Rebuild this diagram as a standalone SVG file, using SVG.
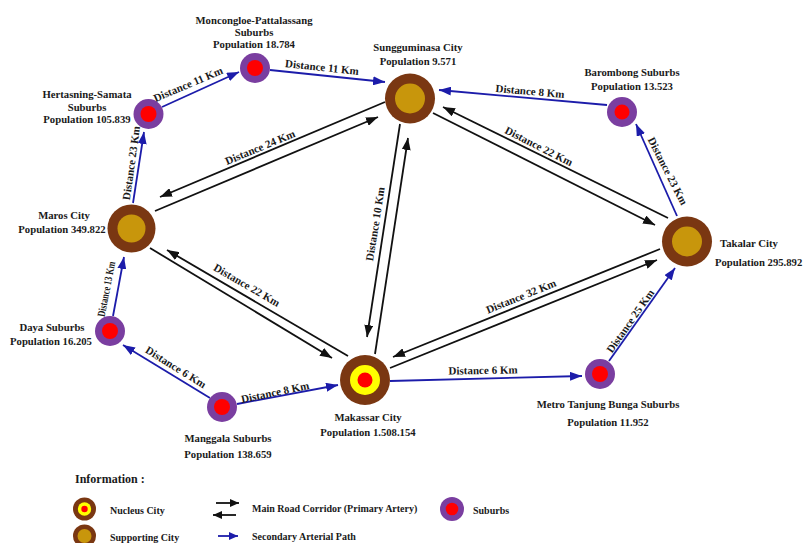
<svg xmlns="http://www.w3.org/2000/svg" width="804" height="543" viewBox="0 0 804 543">
<defs>
<style>
.t{font-family:"Liberation Serif","Times New Roman",serif;font-weight:bold;font-size:10.7px;fill:#1a1a1a}
.d{font-family:"Liberation Serif","Times New Roman",serif;font-weight:bold;font-size:11px;fill:#1a1a1a;text-anchor:middle}
.lg{font-family:"Liberation Serif","Times New Roman",serif;font-weight:bold;font-size:10px;fill:#1a1a1a}
.c{text-anchor:middle}
.main{fill:none;stroke:#111;stroke-width:1.8;marker-end:url(#ab)}
.sec{fill:none;stroke:#1c1caa;stroke-width:1.8;marker-end:url(#au)}
.brown{fill:#7a3712}
.gold{fill:#c8960c}
.yel{fill:#ffff00}
.red{fill:#ff0000}
.pur{fill:#7a3ea0}
</style>
<marker id="ab" markerWidth="12" markerHeight="9" refX="12" refY="4.5" orient="auto" markerUnits="userSpaceOnUse"><path d="M0,0 L12,4.5 L0,9 z" fill="#111"/></marker>
<marker id="au" markerWidth="12" markerHeight="9" refX="12" refY="4.5" orient="auto" markerUnits="userSpaceOnUse"><path d="M0,0 L12,4.5 L0,9 z" fill="#1c1caa"/></marker>
<marker id="abs" markerWidth="9" markerHeight="8" refX="9" refY="4" orient="auto" markerUnits="userSpaceOnUse"><path d="M0,0 L9,4 L0,8 z" fill="#111"/></marker>
<marker id="aus" markerWidth="9" markerHeight="8" refX="9" refY="4" orient="auto" markerUnits="userSpaceOnUse"><path d="M0,0 L9,4 L0,8 z" fill="#1c1caa"/></marker>
</defs>
<rect width="804" height="543" fill="#ffffff"/>

<g id="connectors">
<path class="main" d="M385,102 L160,197"/>
<path class="main" d="M155,211 L378,117"/>
<path class="main" d="M348,356 L167,250"/>
<path class="main" d="M150,248 L332,358"/>
<path class="main" d="M400,124 L367,337"/>
<path class="main" d="M375,354 L408,138"/>
<path class="main" d="M433,113 L655,225"/>
<path class="main" d="M668,218 L443,107"/>
<path class="main" d="M660,249 L393,357"/>
<path class="main" d="M390,368 L657,260"/>
<path class="sec" d="M162,107 L239,72"/>
<path class="sec" d="M270,70 L385,82"/>
<path class="sec" d="M607,105 L439,90"/>
<path class="sec" d="M677,216 L636,124"/>
<path class="sec" d="M133,203 L144,132"/>
<path class="sec" d="M113,316 L124,257"/>
<path class="sec" d="M210,398 L123,345"/>
<path class="sec" d="M237,404 L338,385"/>
<path class="sec" d="M390,381 L582,376"/>
<path class="sec" d="M609,361 L675,268"/>
<text class="d" transform="translate(260,147) rotate(-22.5)" y="4">Distance 24 Km</text>
<text class="d" transform="translate(375,224) rotate(-81)" y="4">Distance 10 Km</text>
<text class="d" transform="translate(247,285) rotate(30)" y="4">Distance 22 Km</text>
<text class="d" transform="translate(539,146) rotate(27)" y="4">Distance 22 Km</text>
<text class="d" transform="translate(521,296) rotate(-22)" y="4">Distance 32 Km</text>
<text class="d" transform="translate(188,84) rotate(-23)" y="4">Distance 11 Km</text>
<text class="d" transform="translate(322,67) rotate(6)" y="4">Distance 11 Km</text>
<text class="d" transform="translate(530,91) rotate(5)" y="4">Distance 8 Km</text>
<text class="d" transform="translate(668,171) rotate(63)" y="4">Distance 23 Km</text>
<text class="d" transform="translate(131,163) rotate(-82)" y="4">Distance 23 Km</text>
<text class="d" transform="translate(106,289) rotate(-79)" y="4" textLength="56" lengthAdjust="spacingAndGlyphs">Distance 13 Km</text>
<text class="d" transform="translate(176,367) rotate(32)" y="4">Distance 6 Km</text>
<text class="d" transform="translate(275,392) rotate(-12)" y="4">Distance 8 Km</text>
<text class="d" transform="translate(483,370) rotate(-1)" y="4">Distance 6 Km</text>
<text class="d" transform="translate(630,321) rotate(-55)" y="4">Distance 25 Km</text>
</g>

<g id="moncongloe">
<circle class="pur" cx="255" cy="68" r="15"/>
<circle class="red" cx="255" cy="68" r="8"/>
<text class="t c" x="254" y="24">Moncongloe-Pattalassang</text>
<text class="t c" x="254" y="36">Suburbs</text>
<text class="t c" x="254" y="48">Population 18.784</text>
</g>

<g id="hertasning">
<circle class="pur" cx="148.5" cy="114" r="15"/>
<circle class="red" cx="148.5" cy="114" r="8"/>
<text class="t c" x="87" y="98">Hertasning-Samata</text>
<text class="t c" x="87" y="110.5">Suburbs</text>
<text class="t c" x="87" y="123">Population 105.839</text>
</g>

<g id="sungguminasa">
<circle class="brown" cx="410" cy="98.5" r="25"/>
<circle class="gold" cx="410" cy="98.5" r="15"/>
<text class="t c" x="418" y="51">Sungguminasa City</text>
<text class="t c" x="418" y="65">Population 9.571</text>
</g>

<g id="barombong">
<circle class="pur" cx="622" cy="112" r="15"/>
<circle class="red" cx="622" cy="112" r="7.5"/>
<text class="t c" x="632" y="75.5">Barombong Suburbs</text>
<text class="t c" x="632" y="89.5">Population 13.523</text>
</g>

<g id="maros">
<circle class="brown" cx="131.5" cy="228.5" r="24"/>
<circle class="gold" cx="131.5" cy="228.5" r="14"/>
<text class="t c" x="64" y="219">Maros City</text>
<text class="t c" x="62" y="233">Population 349.822</text>
</g>

<g id="takalar">
<circle class="brown" cx="687" cy="241.5" r="25"/>
<circle class="gold" cx="687" cy="241.5" r="15"/>
<text class="t" x="720" y="247">Takalar City</text>
<text class="t" x="715" y="266">Population 295.892</text>
</g>

<g id="daya">
<circle class="pur" cx="110" cy="331" r="15"/>
<circle class="red" cx="110" cy="331" r="8"/>
<text class="t c" x="52" y="330.5">Daya Suburbs</text>
<text class="t c" x="51" y="345">Population 16.205</text>
</g>

<g id="manggala">
<circle class="pur" cx="222" cy="407" r="15"/>
<circle class="red" cx="222" cy="407" r="8"/>
<text class="t c" x="228" y="441.5">Manggala Suburbs</text>
<text class="t c" x="228" y="457.5">Population 138.659</text>
</g>

<g id="makassar">
<circle class="brown" cx="365" cy="380" r="25"/>
<circle class="yel" cx="365" cy="380" r="15"/>
<circle class="red" cx="365" cy="380" r="7.5"/>
<text class="t c" x="368" y="421">Makassar City</text>
<text class="t c" x="368" y="436">Population 1.508.154</text>
</g>

<g id="metro">
<circle class="pur" cx="600" cy="374" r="15"/>
<circle class="red" cx="600" cy="374" r="8"/>
<text class="t c" x="608" y="408">Metro Tanjung Bunga Suburbs</text>
<text class="t c" x="608" y="425.5">Population 11.952</text>
</g>

<g id="legend">
<text class="lg" x="75" y="483" style="font-size:12px">Information :</text>
<circle class="brown" cx="84.5" cy="509" r="11.5"/>
<circle class="yel" cx="84.5" cy="509" r="6.7"/>
<circle class="red" cx="84.5" cy="509" r="3.2"/>
<text class="lg" x="110" y="514">Nucleus City</text>
<circle class="brown" cx="84.5" cy="536" r="11.5"/>
<circle class="gold" cx="84.5" cy="536" r="7"/>
<text class="lg" x="110" y="540.5">Supporting City</text>
<path d="M216,503 L239,503" fill="none" stroke="#111" stroke-width="1.8" marker-end="url(#abs)"/>
<path d="M236,515 L213,515" fill="none" stroke="#111" stroke-width="1.8" marker-end="url(#abs)"/>
<text class="lg" x="252" y="511.5">Main Road Corridor (Primary Artery)</text>
<path d="M218,536 L238,536" fill="none" stroke="#1c1caa" stroke-width="1.8" marker-end="url(#aus)"/>
<text class="lg" x="252" y="539.5">Secondary Arterial Path</text>
<circle class="pur" cx="452" cy="509" r="12"/>
<circle class="red" cx="452" cy="509" r="6.3"/>
<text class="lg" x="473" y="513.5">Suburbs</text>
</g>
</svg>
